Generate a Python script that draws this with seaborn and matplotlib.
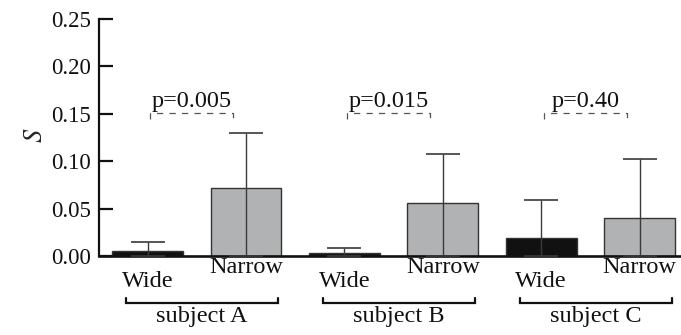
import matplotlib
matplotlib.use("Agg")
import matplotlib.pyplot as plt
import seaborn as sns
import pandas as pd

# ---- data ----
subjects = ["subject A", "subject B", "subject C"]
conditions = ["Wide", "Narrow"]
means = [0.005, 0.072, 0.003, 0.056, 0.019, 0.040]
upper_err = [0.010, 0.058, 0.005, 0.052, 0.040, 0.062]
p_labels = ["p=0.005", "p=0.015", "p=0.40"]
yticks = [0.00, 0.05, 0.10, 0.15, 0.20, 0.25]
ytick_labels = ["0.00", "0.05", "0.10", "0.15", "0.20", "0.25"]

rows = []
for si, s in enumerate(subjects):
    for ci, c in enumerate(conditions):
        rows.append({"bar": f"{s}|{c}", "subject": s, "cond": c,
                     "mean": means[si * 2 + ci]})
df = pd.DataFrame(rows)

sns.set_style("ticks")
plt.rcParams["font.family"] = ["Liberation Serif", "DejaVu Serif"]
plt.rcParams["mathtext.fontset"] = "stix"

W, H = 681, 335
fig = plt.figure(figsize=(W / 100, H / 100), dpi=100)
ax = fig.add_axes([99 / W, 1 - 256 / H, 1 - 99 / W, (256 - 19) / H])

sns.barplot(data=df, x="bar", y="mean", hue="cond", dodge=False,
            palette={"Wide": "#111111", "Narrow": "#b1b2b4"},
            width=0.72, edgecolor="#333333", linewidth=1.0,
            errorbar=None, legend=False, ax=ax)

pos = list(range(len(means)))
ax.errorbar(pos, means, yerr=[means, upper_err], fmt="none",
            ecolor="#3a3a3a", elinewidth=1.0, capsize=12, capthick=1.2,
            zorder=3)

ax.set_xlim(-0.493, 5.42)
ax.set_ylim(0, 0.25)
ax.set_xticks([])
ax.set_xlabel("")
ax.set_yticks(yticks)
ax.set_yticklabels(ytick_labels, fontsize=16.5, family="Liberation Serif")
ax.tick_params(axis="y", direction="in", length=10, width=1.6, pad=6,
               colors="#111111")
for side in ["top", "right"]:
    ax.spines[side].set_visible(False)
ax.spines["left"].set_linewidth(1.6)
ax.spines["bottom"].set_linewidth(1.9)
ax.spines["left"].set_color("#111111")
ax.spines["bottom"].set_color("#111111")

ax.set_ylabel(r"$S$", fontsize=19)
ax.yaxis.set_label_coords((36 - 99) / (W - 99), (256 - 135) / (256 - 19))
ax.yaxis.label.set_verticalalignment("center")

# condition labels (staggered)
fs = 17.5
for i in pos:
    cond = conditions[i % 2]
    off = 22.3 if cond == "Wide" else 12.2
    ax.annotate(cond, xy=(i, 0), xycoords=("data", "axes fraction"),
                xytext=(0, -off), textcoords="offset points",
                ha="center", va="baseline", fontsize=fs, color="#111111",
                annotation_clip=False)

px = 0.25 / 237.0  # data units per pixel
# subject brackets
for si, s in enumerate(subjects):
    x0 = si * 2 - 0.22
    x1 = si * 2 + 1 + 0.33
    yb = -47 * px
    yt = -42 * px
    ax.plot([x0, x0, x1, x1], [yt, yb, yb, yt], color="#111111", lw=1.6,
            clip_on=False, solid_joinstyle="miter")
    ax.text((x0 + x1) / 2, -66 * px, s, ha="center", va="baseline",
            fontsize=fs, color="#111111", clip_on=False)

# p-value brackets
p_line = 0.151
for si, lab in enumerate(p_labels):
    x0 = si * 2 + 0.03
    x1 = si * 2 + 0.87
    ax.plot([x0, x0, x1, x1], [p_line - 6 * px, p_line, p_line, p_line - 6 * px],
            color="#555555", lw=0.9, linestyle=(0, (5, 5)))
    ax.text((x0 + x1) / 2, p_line + 6 * px, lab, ha="center", va="baseline",
            fontsize=fs, color="#111111")

fig.savefig("out.png", dpi=100)
